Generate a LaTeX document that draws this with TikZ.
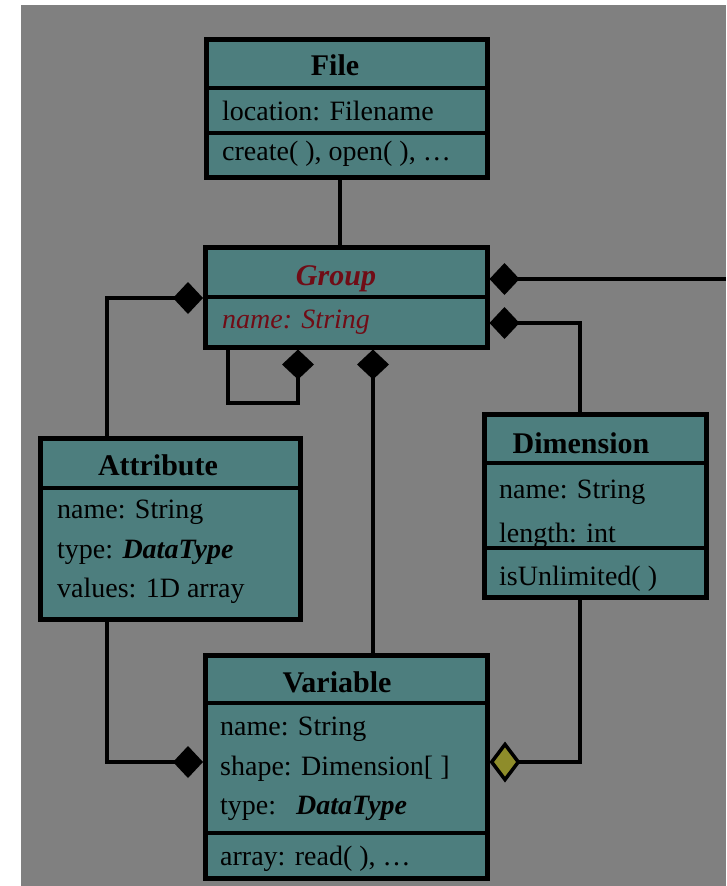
\documentclass[tikz,border=0pt]{standalone}
\usepackage{fontspec}
\setmainfont{Liberation Serif}
\usetikzlibrary{arrows.meta}
\definecolor{bggray}{RGB}{128,128,128}
\definecolor{clsfill}{RGB}{77,126,126}
\definecolor{abstractred}{RGB}{112,12,22}
\definecolor{aggfill}{RGB}{142,140,42}

\begin{document}
\begin{tikzpicture}[x=1pt,y=-1pt,
  cls/.style={draw=black, line width=4.5pt, fill=clsfill, inner sep=0pt, anchor=north west},
  sep/.style={line width=4.5pt},
  conn/.style={line width=4.5pt},
  title/.style={anchor=base, inner sep=0pt, font=\fontsize{30}{36}\selectfont\bfseries},
  member/.style={anchor=base west, inner sep=0pt, font=\fontsize{28}{34}\selectfont},
  comp/.style={-{Diamond[length=30pt,width=32pt,line width=0pt]}},
  agg/.style={-{Diamond[length=31pt,width=41pt,fill=aggfill,line width=3.5pt]}}
]
% canvas
\useasboundingbox (0,0) rectangle (726,886);
\fill[white] (0,0) rectangle (726,886);
\fill[bggray] (21,5) rectangle (726,886);

% class boxes
\node[cls, minimum width=281pt, minimum height=138pt] (file)  at (204,37)  {};
\node[cls, minimum width=282pt, minimum height=100pt] (group) at (203,245) {};
\node[cls, minimum width=260pt, minimum height=181pt] (attr)  at (38,436)  {};
\node[cls, minimum width=222pt, minimum height=183pt] (dim)   at (482,412) {};
\node[cls, minimum width=282pt, minimum height=223pt] (var)   at (203,653) {};

% compartment separators
\draw[sep] (file.west |- 0,88)   -- (file.east |- 0,88);
\draw[sep] (file.west |- 0,133)  -- (file.east |- 0,133);
\draw[sep] (group.west |- 0,297) -- (group.east |- 0,297);
\draw[sep] (attr.west |- 0,488)  -- (attr.east |- 0,488);
\draw[sep] (dim.west |- 0,463)   -- (dim.east |- 0,463);
\draw[sep] (dim.west |- 0,548)   -- (dim.east |- 0,548);
\draw[sep] (var.west |- 0,703)   -- (var.east |- 0,703);
\draw[sep] (var.west |- 0,833)   -- (var.east |- 0,833);

% File
\node[title]  (fileT)  at (335,75)  {File};
\node[member] (fileA1) at (222,120) {location: Filename};
\node[member] (fileM1) at (222,160) {create( ), open( ), …};

% Group (abstract)
\node[title, text=abstractred, font=\fontsize{30}{36}\selectfont\bfseries\itshape] (groupT) at (336,285) {Group};
\node[member, text=abstractred, font=\fontsize{28}{34}\selectfont\itshape] (groupA1) at (222,328) {name: String};

% Attribute
\node[title]  (attrT)  at (158,475) {Attribute};
\node[member] (attrA1) at (57,518)  {name: String};
\node[member] (attrA2) at (57,558)  {type: \textbf{\textit{DataType}}};
\node[member] (attrA3) at (57,597)  {values: 1D array};

% Dimension
\node[title]  (dimT)  at (581,453) {Dimension};
\node[member] (dimA1) at (499,498) {name: String};
\node[member] (dimA2) at (499,542) {length: int};
\node[member] (dimM1) at (499,585) {isUnlimited( )};

% Variable
\node[title]  (varT)  at (337,692) {Variable};
\node[member] (varA1) at (220,735) {name: String};
\node[member] (varA2) at (220,775) {shape: Dimension[ ]};
\node[member] (varA3) at (220,814) {type:\hspace{20pt}\textbf{\textit{DataType}}};
\node[member] (varM1) at (220,865) {array: read( ), …};

% routing guides
\coordinate (colF) at (340,0);
\coordinate (colA) at (107,0);
\coordinate (colV) at (373,0);
\coordinate (colD) at (580,0);
\coordinate (loopL) at (228,0);
\coordinate (loopR) at (298,0);
\coordinate (rowGA) at (0,298);
\coordinate (rowGE) at (0,279);
\coordinate (rowGD) at (0,323);
\coordinate (rowLoop) at (0,403);
\coordinate (rowV) at (0,762);
\coordinate (offright) at (726,279);

% associations
\draw[conn] (file.south -| colF) -- (group.north -| colF);
\draw[conn,comp] (attr.north -| colA) |- (group.west |- rowGA);
\draw[conn,comp] (group.south -| loopL) |- (loopR |- rowLoop) -- (group.south -| loopR);
\draw[conn,comp] (var.north -| colV) -- (group.south -| colV);
\draw[conn,comp] (offright) -- (group.east |- rowGE);
\draw[conn,comp] (dim.north -| colD) |- (group.east |- rowGD);
\draw[conn,comp] (attr.south -| colA) |- (var.west |- rowV);
\draw[conn,agg]  (dim.south -| colD) |- (var.east |- rowV);
\end{tikzpicture}
\end{document}
